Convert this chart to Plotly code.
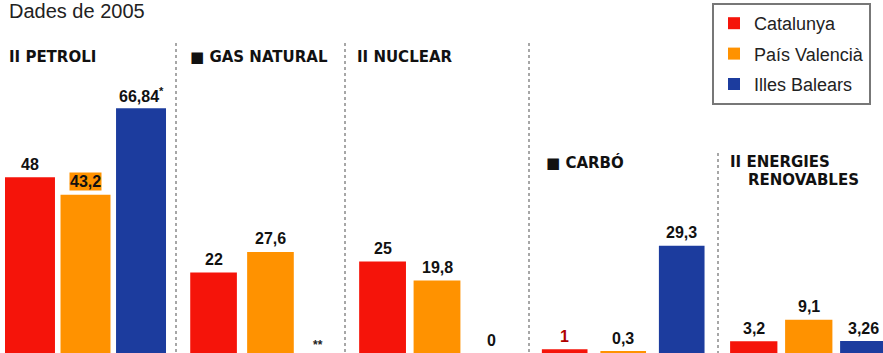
import plotly.graph_objects as go
from plotly.subplots import make_subplots

W, H = 883, 353

regions = ["Catalunya", "País Valencià", "Illes Balears"]
colors = ["#f5140a", "#ff9200", "#1c3c9e"]
sources = ["PETROLI", "GAS NATURAL", "NUCLEAR", "CARBÓ", "ENERGIES RENOVABLES"]

petroli = [48, 43.2, 66.84]
gas_natural = [22, 27.6, None]
nuclear = [25, 19.8, 0]
carbo = [1, 0.3, 29.3]
renovables = [3.2, 9.1, 3.26]

petroli_labels = ["48", "43,2", "66,84<sup>*</sup>"]
gas_labels = ["22", "27,6", "**"]
nuclear_labels = ["25", "19,8", "0"]
carbo_labels = ["1", "0,3", "29,3"]
renovables_labels = ["3,2", "9,1", "3,26"]

panels = [petroli, gas_natural, nuclear, carbo, renovables]
panel_labels = [petroli_labels, gas_labels, nuclear_labels, carbo_labels, renovables_labels]

# layout (pixels) of each panel
domains_px = [(0, 176), (176, 345), (345, 529), (529, 718), (718, 883)]
ranges = [(-0.54, 2.63), (-0.66, 2.31), (-0.69, 2.69), (-0.61, 2.62), (-0.65, 2.35)]
widths = [0.9, 0.82, 0.86, 0.78, 0.86]

fig = make_subplots(rows=1, cols=5, shared_yaxes=False, horizontal_spacing=0)

num_font = "Liberation Sans, Arial, sans-serif"

for p, vals in enumerate(panels):
    for r, reg in enumerate(regions):
        v = vals[r]
        fig.add_trace(
            go.Bar(
                x=[r], y=[v if v is not None else 0],
                name=reg, marker=dict(color=colors[r], line=dict(width=0)),
                width=widths[p], showlegend=(p == 0), legendgroup=reg,
                hoverinfo="skip",
            ),
            row=1, col=p + 1,
        )
        lab = panel_labels[p][r]
        xr = "x" if p == 0 else f"x{p+1}"
        yr = "y" if p == 0 else f"y{p+1}"
        if v is None:
            fig.add_annotation(x=r, y=0, xref=xr, yref=yr, text="<b>" + lab + "</b>",
                               showarrow=False, yanchor="bottom", xshift=-9, yshift=-1,
                               font=dict(family=num_font, size=12, color="#222"))
            continue
        ann = dict(x=r, y=v, xref=xr, yref=yr, text="<b>" + lab + "</b>", showarrow=False,
                   yanchor="middle", yshift=13,
                   font=dict(family=num_font, size=16, color="#111"))
        if p == 0 and r == 1:
            ann["bgcolor"] = colors[1]
            ann["borderpad"] = 0
        if p == 3 and r == 0:
            ann["font"] = dict(family=num_font, size=16, color="#b00000")
        fig.add_annotation(**ann)

for p in range(5):
    a, b = domains_px[p]
    key = "xaxis" if p == 0 else f"xaxis{p+1}"
    ykey = "yaxis" if p == 0 else f"yaxis{p+1}"
    fig.layout[key].update(domain=[a / W, b / W], range=list(ranges[p]), visible=False,
                           fixedrange=True)
    fig.layout[ykey].update(range=[0, 96.4], visible=False, fixedrange=True)

title_font = dict(family="DejaVu Sans, Liberation Sans, sans-serif", size=15, color="#111")
titles = [
    ("<b>II PETROLI</b>", 7, 57),
    ("<b>■ GAS NATURAL</b>", 188, 57),
    ("<b>II NUCLEAR</b>", 355, 57),
    ("<b>■ CARBÓ</b>", 544, 162),
    ("<b>II ENERGIES</b>", 728, 162),
    ("<b>RENOVABLES</b>", 746, 180),
]
for t, x, y in titles:
    fig.add_annotation(x=x / W, y=1 - y / H, xref="paper", yref="paper", text=t,
                       showarrow=False, xanchor="left", yanchor="middle", font=title_font)

fig.add_annotation(x=7 / W, y=1 - 11 / H, xref="paper", yref="paper", text="Dades de 2005",
                   showarrow=False, xanchor="left", yanchor="middle",
                   font=dict(family="Liberation Sans, Arial, sans-serif", size=20, color="#222"))

# dotted separators
seps = [(176, 43), (345, 43), (529, 43), (718, 153)]
for x, ytop in seps:
    fig.add_shape(type="line", xref="paper", yref="paper", x0=x / W, x1=x / W,
                  y0=1 - ytop / H, y1=0, line=dict(color="#8a8a8a", width=1.5, dash="dot"))

fig.update_layout(
    width=W, height=H,
    margin=dict(l=0, r=0, t=0, b=0),
    paper_bgcolor="white", plot_bgcolor="white",
    barmode="group",
    showlegend=True,
    legend=dict(x=712 / W, y=1 - 3 / H, xanchor="left", yanchor="top",
                bordercolor="#777", borderwidth=2, bgcolor="white",
                font=dict(family="Liberation Sans, Arial, sans-serif", size=18, color="#222"),
                tracegroupgap=4, traceorder="grouped", itemwidth=30),
)

fig.write_html("out.html", config={"displayModeBar": False})
